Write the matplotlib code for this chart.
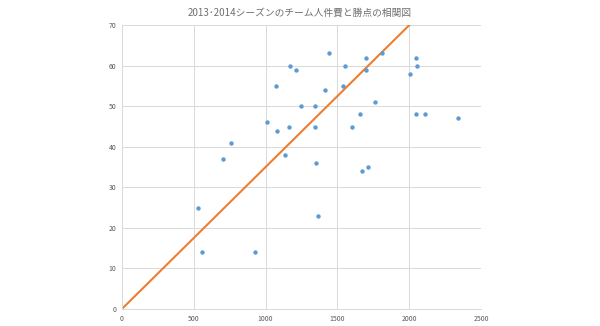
import matplotlib
matplotlib.use("Agg")
import matplotlib.pyplot as plt

plt.rcParams['font.family'] = ['Noto Sans CJK JP', 'DejaVu Sans']

# team payroll (x) vs points (y), 2013-2014 seasons
payroll = [530, 557, 925, 706, 757, 1010, 1072, 1081, 1170, 1209, 1165, 1137,
           1247, 1344, 1344, 1349, 1416, 1444, 1541, 1555, 1602, 1657, 1697,
           1697, 1762, 1808, 1713, 1673, 1365, 2008, 2047, 2052, 2045, 2110, 2340]
points = [25, 14, 14, 37, 41, 46, 55, 44, 60, 59, 45, 38,
          50, 50, 45, 36, 54, 63, 55, 60, 45, 48, 62,
          59, 51, 63, 35, 34, 23, 58, 62, 60, 48, 48, 47]

# reference line
line_x = [0, 2000]
line_y = [0, 70]

xticks = [0, 500, 1000, 1500, 2000, 2500]
yticks = [0, 10, 20, 30, 40, 50, 60, 70]

fig = plt.figure(figsize=(6, 3.26), dpi=100)
ax = fig.add_axes([0.203, 0.052, 0.599, 0.871])

ax.scatter(payroll, points, s=10, color='#5B9BD5', zorder=3, linewidths=0)
ax.plot(line_x, line_y, color='#ED7D31', linewidth=1.5, zorder=2)

ax.set_xlim(0, 2500)
ax.set_ylim(0, 70)
ax.set_xticks(xticks)
ax.set_yticks(yticks)
ax.grid(True, color='#D9D9D9', linewidth=0.7)
ax.set_axisbelow(True)
for side in ['top', 'right']:
    ax.spines[side].set_visible(False)
for side in ['left', 'bottom']:
    ax.spines[side].set_color('#D9D9D9')
    ax.spines[side].set_linewidth(0.7)
ax.tick_params(length=0, labelsize=5, colors='#595959', pad=4)

fig.text(0.5, 0.962, '2013･2014シーズンのチーム人件費と勝点の相関図',
         ha='center', va='center', fontsize=7, color='#6F6F6F')

fig.savefig('out.png', dpi=100)
